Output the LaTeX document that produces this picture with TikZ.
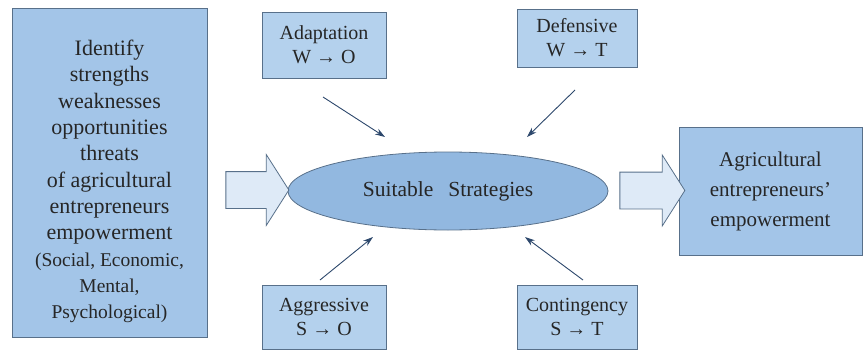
\documentclass[tikz,border=0pt]{standalone}
\usepackage{fontspec}
\setmainfont{Liberation Serif}
\usepackage{tikz}
\usetikzlibrary{arrows.meta,shapes.geometric,shapes.arrows}
\definecolor{swotblue}{RGB}{163,197,232}
\definecolor{stratblue}{RGB}{180,209,237}
\definecolor{ovalblue}{RGB}{146,184,224}
\definecolor{arrowpale}{RGB}{222,234,247}
\definecolor{edgegray}{RGB}{88,112,138}
\definecolor{inkdark}{RGB}{38,38,38}
\definecolor{pointerblue}{RGB}{45,72,108}

\begin{document}
\begin{tikzpicture}[x=1pt, y=-1pt,
  every node/.style={font=\fontsize{21.5}{26}\selectfont, text=inkdark},
  bigbox/.style={draw=edgegray, fill=swotblue, line width=0.9pt, align=center, inner sep=0pt},
  stratbox/.style={draw=edgegray, fill=stratblue, line width=0.8pt, align=center, inner sep=0pt,
    minimum width=124pt, minimum height=66pt, font=\fontsize{20}{24}\selectfont},
  blockarrow/.style={single arrow, draw=edgegray, fill=arrowpale, line width=0.8pt,
    inner xsep=0pt, inner ysep=18pt, minimum width=70pt, minimum height=63pt,
    single arrow head extend=17pt, single arrow tip angle=115},
  pointer/.style={draw=pointerblue, line width=0.9pt, -{Stealth[length=10pt,width=6.5pt]}}]
  % page frame, same size as the reference
  \useasboundingbox (0,0) rectangle (863,351);

  % SWOT input box on the left, its text a little below the middle
  \node[bigbox, minimum width=195pt, minimum height=329pt] (swot) at (109.5,172.5) {};
  \node[align=center, inner sep=0pt, font=\fontsize{22}{26.3}\selectfont] (swotText)
    at ([yshift=-9pt]swot.center)
    {Identify\\ strengths\\ weaknesses\\ opportunities\\ threats\\ of agricultural\\
     entrepreneurs\\ empowerment\\
     {\fontsize{19.5}{26.3}\selectfont (Social, Economic,}\\
     {\fontsize{19.5}{26.3}\selectfont Mental,}\\
     {\fontsize{19.5}{26.3}\selectfont Psychological)}};

  % central oval
  \node[ellipse, draw=edgegray, fill=ovalblue, line width=0.8pt, inner sep=0pt,
    minimum width=320pt, minimum height=78pt] (suit) at (448,191) {Suitable\hspace{0.7em}Strategies};

  % the four strategy boxes
  \node[stratbox] (adapt) at (324,45) {Adaptation\\ W → O};
  \node[stratbox, minimum width=120pt, minimum height=58pt] (defend) at (577,38) {Defensive\\ W → T};
  \node[stratbox, minimum height=64pt] (aggress) at (324,317) {Aggressive\\ S → O};
  \node[stratbox, minimum width=120pt, minimum height=64pt] (conting) at (577,317) {Contingency\\ S → T};

  % outcome box on the right
  \node[bigbox, minimum width=183pt, minimum height=128pt, font=\fontsize{21}{30}\selectfont]
    (empower) at (770.5,191) {Agricultural\\ entrepreneurs'\\ empowerment};

  % block arrows in and out of the oval
  \node[blockarrow] (inflow) at (251.5,190) {};
  \node[blockarrow, minimum height=65pt] (outflow) at (646.5,190.5) {};

  % thin pointers from the strategy boxes toward the oval
  \foreach \s/\tx/\ty/\hx/\hy in {adapt/323/97/385/137, defend/575/90/527/137,
                                 aggress/320/280/373/237, conting/583/280/525/237}{
    \coordinate (\s Tail) at (\tx,\ty);
    \coordinate (\s Head) at (\hx,\hy);
    \draw[pointer] (\s Tail) -- (\s Head);
  }
\end{tikzpicture}
\end{document}
